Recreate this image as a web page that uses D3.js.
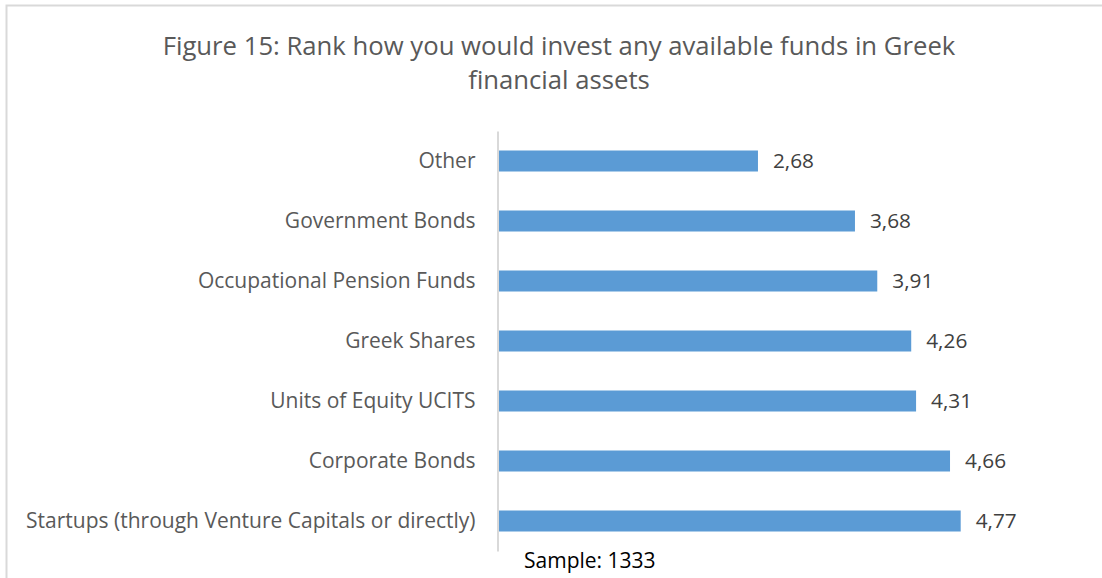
<!DOCTYPE html>
<html><head><meta charset="utf-8">
<script src="https://cdn.jsdelivr.net/npm/d3@7"></script>
<style>body{margin:0;background:#fff}svg{display:block}</style>
</head><body>
<svg id="c" width="1102" height="578"></svg>
<script>
const categories = ["Other","Government Bonds","Occupational Pension Funds","Greek Shares","Units of Equity UCITS","Corporate Bonds","Startups (through Venture Capitals or directly)"];
const values = [2.68,3.68,3.91,4.26,4.31,4.66,4.77];
const titleLines = ["Figure 15: Rank how you would invest any available funds in Greek","financial assets"];
const note = "Sample: 1333";

const svg = d3.select("#c");
const font = "'Open Sans', sans-serif";

// border
svg.append("path").attr("d","M6.5,578 V5.5 H1102").attr("fill","none").attr("stroke","#d9d9d9").attr("stroke-width",2);

// title
svg.selectAll(".t").data(titleLines).enter().append("text")
  .attr("x",559).attr("y",(d,i)=>55+i*34).attr("text-anchor","middle")
  .attr("font-family",font).attr("font-size",25.7).attr("fill","#595959").text(d=>d);

const x = d3.scaleLinear().domain([0,1]).range([498,595]);
const y = d3.scaleBand().domain(categories).range([131,551]).paddingInner(0.65).paddingOuter(0.325);

svg.selectAll(".bar").data(values).enter().append("rect")
  .attr("x",x(0)).attr("y",(d,i)=>y(categories[i]))
  .attr("width",d=>x(d)-x(0)).attr("height",y.bandwidth()).attr("fill","#5b9bd5");

svg.selectAll(".val").data(values).enter().append("text")
  .attr("x",d=>x(d)+15).attr("y",(d,i)=>y(categories[i])+y.bandwidth()/2).attr("dy","0.35em")
  .attr("font-family",font).attr("font-size",20.8).attr("fill","#404040")
  .text(d=>d.toFixed(2).replace(".",","));

const ax = svg.append("g").attr("transform",`translate(${x(0)-0.5},0)`)
  .call(d3.axisLeft(y).tickSize(0).tickPadding(22));
ax.select(".domain").attr("stroke","#d9d9d9").attr("stroke-width",2);
ax.selectAll("text").attr("font-family",font).attr("font-size",21).attr("fill","#595959");

svg.append("text").attr("x",524).attr("y",568).attr("font-family",font).attr("font-size",21).attr("fill","#000").text(note);
</script>
</body></html>
